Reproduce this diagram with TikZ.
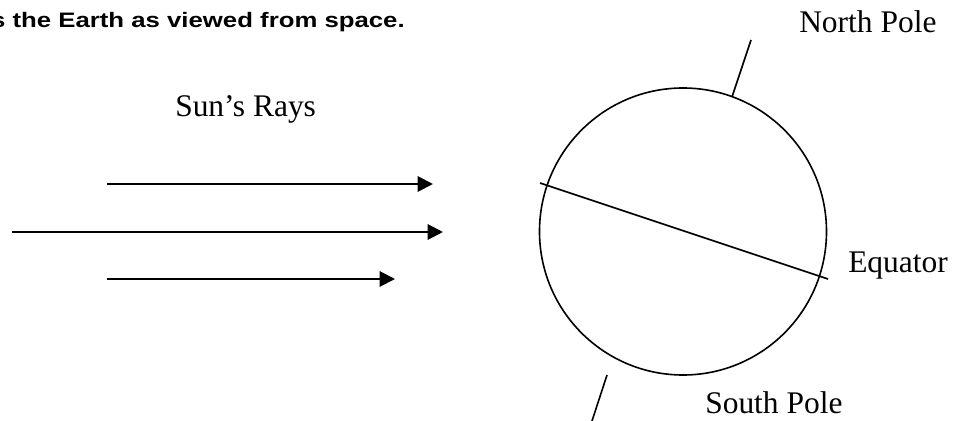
\documentclass[tikz,border=0pt]{standalone}
\usepackage{fontspec}
\setmainfont{Liberation Serif}
\newfontfamily\capfont{Liberation Sans}
\usetikzlibrary{arrows.meta}
\begin{document}
\begin{tikzpicture}[x=0.75pt,y=-0.75pt,
  lbl/.style={anchor=base west,inner sep=0pt,font=\fontsize{23.6pt}{26pt}\selectfont},
  ray/.style={line width=1.5pt,-{Triangle[length=11.5pt,width=11.5pt]}},
  thin/.style={line width=1.2pt}]
\useasboundingbox (0,0) rectangle (961,421);
% caption (cut at left edge)
\node[anchor=base east,inner sep=0pt] (cap) at (405,27)
  {\scalebox{1.23}[1]{\capfont\fontsize{15.7pt}{18pt}\selectfont\bfseries s the Earth as viewed from space.}};
% labels
\node[lbl] (sun) at (175,116) {Sun’s Rays};
\node[lbl] (np) at (799,32) {North Pole};
\node[lbl] (eq) at (848,272) {Equator};
\node[lbl] (sp) at (705,413) {South Pole};
% rays
\coordinate (r1s) at (107,184); \coordinate (r1e) at (433,184);
\coordinate (r2s) at (12,232);  \coordinate (r2e) at (443,232);
\coordinate (r3s) at (107,279); \coordinate (r3e) at (395,279);
\draw[ray] (r1s) -- (r1e);
\draw[ray] (r2s) -- (r2e);
\draw[ray] (r3s) -- (r3e);
% earth
\coordinate (c) at (683,231.5);
\draw[thin] (c) circle[radius=143.5];
% axis ends
\coordinate (n1) at (732,97); \coordinate (n2) at (751,40);
\coordinate (s1) at (607,375); \coordinate (s2) at (592,421);
\draw[thin] (n1) -- (n2);
\draw[thin] (s1) -- (s2);
% equator
\coordinate (e1) at (540,183); \coordinate (e2) at (828,279);
\draw[thin] (e1) -- (e2);
\end{tikzpicture}
\end{document}
